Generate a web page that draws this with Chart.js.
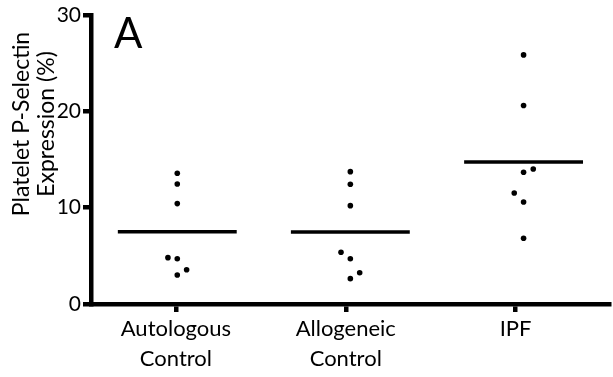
<!DOCTYPE html>
<html>
<head>
<meta charset="utf-8">
<script src="https://cdn.jsdelivr.net/npm/chart.js@4"></script>
<style>
  html, body { margin: 0; padding: 0; background: #fff; }
  #wrap { width: 613px; height: 377px; }
</style>
</head>
<body>
<div id="wrap"><canvas id="chart" width="613" height="377"></canvas></div>
<script>
// -------- DATA --------
const categories = [["Autologous", "Control"], ["Allogeneic", "Control"], ["IPF"]];
const yTicks = [0, 10, 20, 30];

const autologous = [13.57, 12.46, 10.42, 4.81, 4.70, 3.56, 3.01];
const allogeneic = [13.74, 12.43, 10.21, 5.37, 4.70, 3.25, 2.63];
const ipf = [25.86, 20.6, 14.02, 13.68, 11.53, 10.59, 6.82];

// horizontal scatter of the dots, in category units
const autologousJitter = [0, 0, 0, -0.055, 0, 0.055, 0];
const allogeneicJitter = [0, 0, 0, -0.055, 0, 0.055, 0];
const ipfJitter = [0, 0, 0.057, 0, -0.055, 0, 0];

// where each group's dots sit on the x axis
const groupCenters = [0.008, 1.027, 2.047];
const meanHalfWidth = 0.35;

const groups = [autologous, allogeneic, ipf];
const jitters = [autologousJitter, allogeneicJitter, ipfJitter];

const FONT = "Lato, 'Open Sans', sans-serif";

// -------- DATASETS --------
const datasets = [];
groups.forEach((vals, g) => {
    datasets.push({
        type: "scatter",
        data: vals.map((v, i) => ({ x: groupCenters[g] + jitters[g][i], y: v })),
        pointRadius: 2.8,
        pointBackgroundColor: "#000",
        pointBorderWidth: 0
    });
    const mean = vals.reduce((a, b) => a + b, 0) / vals.length;
    datasets.push({
        type: "line",
        data: [
            { x: groupCenters[g] - meanHalfWidth, y: mean },
            { x: groupCenters[g] + meanHalfWidth, y: mean }
        ],
        borderColor: "#000",
        borderWidth: 3.5,
        pointRadius: 0
    });
});

// -------- LABELS (y title, panel letter) --------
const labelsPlugin = {
    id: "labels",
    afterDraw(chart) {
        const ctx = chart.ctx;
        ctx.save();
        ctx.fillStyle = "#000";
        ctx.textAlign = "center";
        ctx.textBaseline = "middle";
        ctx.font = "23px " + FONT;
        ctx.translate(0, 124);
        ctx.rotate(-Math.PI / 2);
        ctx.fillText("Platelet P-Selectin", 0, 22);
        ctx.fillText("Expression (%)", 0, 47);
        ctx.restore();

        ctx.save();
        ctx.fillStyle = "#000";
        ctx.font = "42px " + FONT;
        ctx.textBaseline = "alphabetic";
        ctx.fillText("A", 114, 48);
        ctx.restore();
    }
};

// -------- CHART --------
new Chart(document.getElementById("chart").getContext("2d"), {
    data: { datasets },
    plugins: [labelsPlugin],
    options: {
        responsive: false,
        animation: false,
        layout: { padding: { top: 15, right: 0, left: 0, bottom: 0 } },
        plugins: { legend: { display: false }, tooltip: { enabled: false } },
        scales: {
            x: {
                type: "linear",
                min: -0.5,
                max: 2.55,
                afterBuildTicks: s => { s.ticks = categories.map((c, i) => ({ value: i })); },
                afterFit: s => { s.height = 73; },
                border: { display: true, width: 4.5, color: "#000" },
                grid: { drawOnChartArea: false, drawTicks: true, tickLength: 8, lineWidth: 4.5, color: "#000" },
                ticks: {
                    color: "#000",
                    font: { family: FONT, size: 22, lineHeight: 1.36 },
                    padding: 2,
                    callback: v => categories[v]
                }
            },
            y: {
                min: 0,
                max: 30,
                afterBuildTicks: s => { s.ticks = yTicks.map(v => ({ value: v })); },
                afterFit: s => { s.width = 91; },
                border: { display: true, width: 4.5, color: "#000" },
                grid: { drawOnChartArea: false, drawTicks: true, tickLength: 8, lineWidth: 4.5, color: "#000" },
                ticks: {
                    color: "#000",
                    font: { family: FONT, size: 21 },
                    padding: 2
                }
            }
        }
    }
});
</script>
</body>
</html>
